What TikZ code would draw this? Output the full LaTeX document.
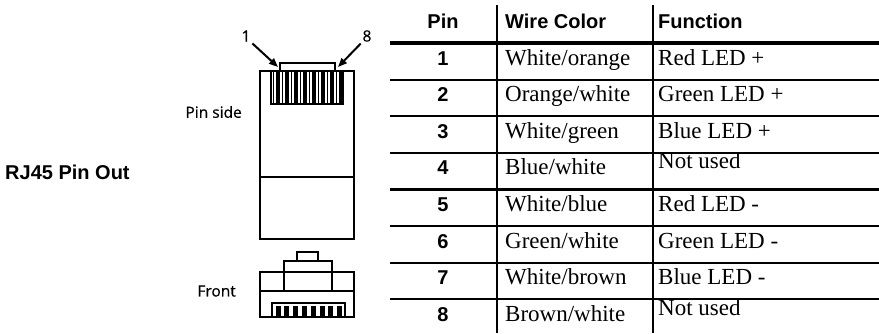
\documentclass[tikz,border=0pt]{standalone}
\usepackage{fontspec}
\newfontfamily\headfont{Liberation Sans}
\newfontfamily\cellfont{Liberation Serif}
\newfontfamily\plugfont{Open Sans}[FakeBold=0.6]
\usetikzlibrary{arrows.meta}

\begin{document}
\begin{tikzpicture}[x=1pt, y=-1pt,
        plug line/.style={line width=2.4pt},
        pin arrow/.style={line width=2pt, -{Triangle[length=9pt,width=7pt]}, shorten <=1pt},
        plug label/.style={font=\plugfont\fontsize{15.5}{18}\selectfont, inner sep=1pt},
        head text/.style={font=\headfont\bfseries\fontsize{20}{24}\selectfont, inner sep=0pt},
        cell text/.style={font=\cellfont\fontsize{23}{26}\selectfont, anchor=base west, inner sep=0pt},
        row rule/.style={line width=2.2pt},
        col rule/.style={line width=2pt}
    ]
    \useasboundingbox (0,0) rectangle (879,333);

    \node[head text, anchor=west] (title) at (5,172) {RJ45 Pin Out};

    % pin side view
    \draw[plug line] (260,71) rectangle (354,239);
    \draw[plug line] (260,177) -- (354,177);
    \draw[plug line] (280,71) |- (335,63) -- (335,71);
    \draw[plug line] (271,71) rectangle (343,104);
    \foreach \k in {0,...,7} {
        \fill (271+9*\k+4.5,71) rectangle (271+9*\k+8.5,104);
        \draw[line width=1pt] (271+9*\k+2,71) -- (271+9*\k+2,104);
    }
    \node[plug label, anchor=east] (side) at (243,112) {Pin side};

    \coordinate (pin1) at (278,67);
    \coordinate (pin8) at (338,67);
    \node[plug label] (lbl1) at (246,36) {1};
    \node[plug label] (lbl8) at (367,36) {8};
    \draw[pin arrow] (lbl1.south east) -- (pin1);
    \draw[pin arrow] (lbl8.south west) -- (pin8);

    % front view
    \draw[plug line] (260,272) rectangle (354,317);
    \draw[plug line] (284,272) |- (332,261) -- (332,272);
    \draw[plug line] (297,261) |- (318,252) -- (318,261);
    \draw[plug line] (284,272) -- (284,291);
    \draw[plug line] (332,272) -- (332,291);
    \draw[plug line] (260,291) -- (354,291);
    \draw[line width=1.6pt] (272,317) |- (345,303) -- (345,317);
    \foreach \k in {0,...,7} {
        \fill (275.5+8.8*\k,306) rectangle ++(5,10);
    }
    \node[plug label, anchor=east] (front) at (237,291) {Front};

    % table
    \draw[line width=4pt] (390,43) -- (879,43);
    \foreach \r in {1,...,7} {
        \draw[row rule] (390,{43+36.6*\r}) -- (879,{43+36.6*\r});
    }
    \draw[col rule] (497,5) -- (497,333);
    \draw[col rule] (653,5) -- (653,333);

    \node[head text, anchor=base] (hpin) at (443,28) {Pin};
    \node[head text, anchor=base west] (hwire) at (505,28) {Wire Color};
    \node[head text, anchor=base west] (hfunc) at (658,28) {Function};

    \foreach \n/\w/\f/\dy in {1/{White/orange}/{Red LED +}/0,
                              2/{Orange/white}/{Green LED +}/0,
                              3/{White/green}/{Blue LED +}/0,
                              4/{Blue/white}/{Not used}/6,
                              5/{White/blue}/{Red LED -}/0,
                              6/{Green/white}/{Green LED -}/0,
                              7/{White/brown}/{Blue LED -}/0,
                              8/{Brown/white}/{Not used}/6} {
        \node[head text, anchor=base] (pin\n) at (443,{43+36.6*(\n-1)+22}) {\n};
        \node[cell text] (wire\n) at (505,{43+36.6*(\n-1)+22}) {\w};
        \node[cell text] (func\n) at (658,{43+36.6*(\n-1)+22-\dy}) {\f};
    }
\end{tikzpicture}
\end{document}
